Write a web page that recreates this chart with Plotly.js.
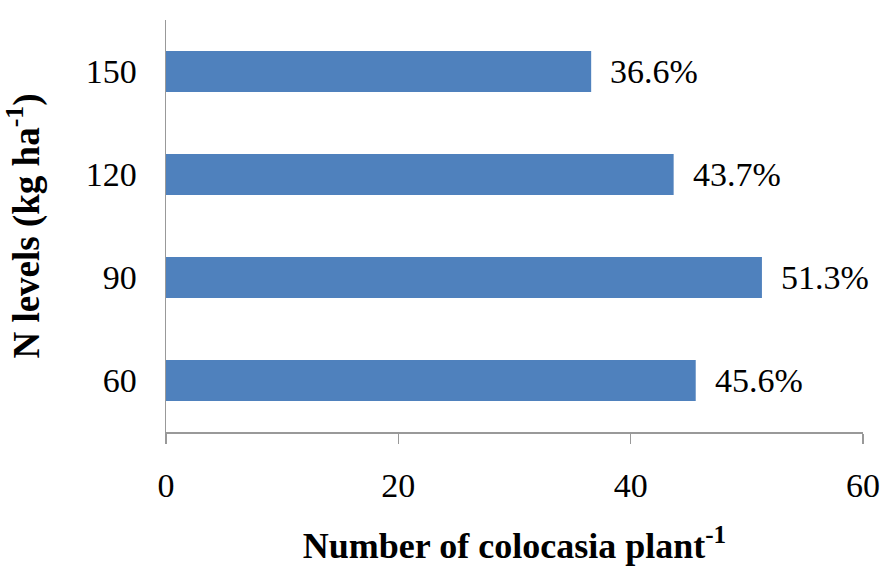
<!DOCTYPE html>
<html>
<head>
<meta charset="utf-8">
<script src="https://cdn.plot.ly/plotly-3.0.1.min.js"></script>
<style>html,body{margin:0;padding:0;background:#fff;}</style>
</head>
<body>
<div id="chart" style="width:885px;height:566px;"></div>
<script>
var categories = ['60', '90', '120', '150'];
var values = [45.6, 51.3, 43.7, 36.6];
var valueLabels = ['45.6%', '51.3%', '43.7%', '36.6%'];
var xTickValues = [0, 20, 40, 60];

var serif = 'Liberation Serif, Times New Roman, serif';

var trace = {
  type: 'bar',
  orientation: 'h',
  x: values,
  y: categories,
  width: 0.4,
  marker: {color: '#4f81bd', line: {width: 0}},
  hoverinfo: 'none'
};

// On a category axis, annotation y uses the category's serial index.
var annotations = categories.map(function (c, i) {
  return {
    x: values[i], y: i, xref: 'x', yref: 'y',
    text: valueLabels[i], showarrow: false,
    xanchor: 'left', yanchor: 'middle', xshift: 17,
    font: {family: serif, size: 34, color: '#000'}
  };
});

var layout = {
  width: 885, height: 566,
  margin: {l: 166, r: 22, t: 20, b: 134},
  paper_bgcolor: '#fff', plot_bgcolor: '#fff',
  showlegend: false,
  xaxis: {
    range: [0, 60], tickvals: xTickValues, ticktext: xTickValues.map(String),
    showgrid: false, zeroline: false,
    showline: true, linecolor: '#999', linewidth: 1.5,
    ticks: 'outside', ticklen: 10, tickcolor: '#999', tickwidth: 1.5,
    ticklabelstandoff: 13,
    tickfont: {family: serif, size: 34, color: '#000'},
    title: {text: 'Number of colocasia plant<sup>-1</sup>', standoff: 32,
            font: {family: serif, size: 36, color: '#000', weight: 'bold'}},
    fixedrange: true
  },
  yaxis: {
    type: 'category', range: [-0.5, 3.5],
    showgrid: false, zeroline: false,
    showline: true, linecolor: '#999', linewidth: 1.5,
    ticks: '', ticklabelstandoff: 21,
    tickfont: {family: serif, size: 34, color: '#000'},
    title: {text: 'N levels (kg ha<sup>-1</sup>)', standoff: 36,
            font: {family: serif, size: 37, color: '#000', weight: 'bold'}},
    fixedrange: true
  },
  annotations: annotations
};

Plotly.newPlot('chart', [trace], layout, {displayModeBar: false, staticPlot: true});
</script>
</body>
</html>
